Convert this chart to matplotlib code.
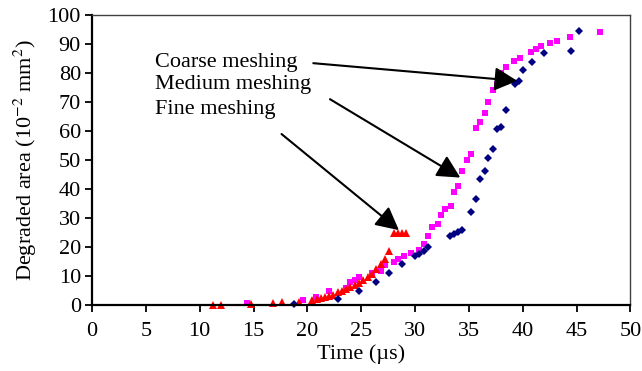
import numpy as np
import matplotlib
matplotlib.use("Agg")
import matplotlib.pyplot as plt

plt.rcParams['font.family'] = ['Liberation Serif', 'DejaVu Serif']
plt.rcParams['mathtext.fontset'] = 'stix'

# coarse meshing (navy diamonds)
coarse_t = [18.8, 22.8, 24.8, 26.4, 27.6, 28.8, 30.0, 30.4, 30.8, 31.2,
            33.2, 33.6, 34.0, 34.4, 35.2, 35.65, 36.05, 36.5, 36.8, 37.2,
            37.6, 38.0, 38.4, 39.25, 39.65, 40.05, 40.85, 42.0, 44.5, 45.25]
coarse_a = [0.5, 2.1, 5.0, 8.0, 11.1, 14.1, 17.1, 17.8, 18.6, 20.1,
            23.9, 24.4, 25.2, 26.0, 32.0, 36.5, 43.4, 46.4, 50.8, 53.8,
            60.6, 61.4, 67.4, 76.3, 77.2, 81.0, 83.9, 86.9, 87.7, 94.5]

# medium meshing (magenta squares)
medium_t = [14.4, 19.6, 20.8, 22.0, 23.6, 24.0, 24.4, 24.8, 26.0, 26.8,
            27.2, 28.0, 28.4, 29.0, 29.6, 30.4, 30.8, 31.2, 31.6, 32.1,
            32.4, 32.8, 33.3, 33.6, 34.0, 34.4, 34.8, 35.2, 35.65, 36.0,
            36.5, 36.8, 37.25, 37.6, 38.0, 38.4, 39.2, 39.7, 40.8, 41.2,
            41.7, 42.5, 43.2, 44.4, 47.2]
medium_a = [0.9, 1.7, 2.9, 4.9, 5.8, 7.9, 8.7, 9.9, 11.0, 11.8,
            14.0, 14.8, 15.8, 17.0, 17.9, 19.0, 21.0, 23.9, 27.0, 28.0,
            31.0, 33.1, 34.1, 39.0, 41.0, 46.2, 49.9, 52.0, 61.1, 63.1,
            66.1, 70.1, 74.1, 76.2, 80.1, 82.2, 84.2, 85.1, 87.1, 88.2,
            89.2, 90.2, 91.1, 92.3, 94.1]

# fine meshing (red triangles)
fine_t = [11.2, 12.0, 14.8, 16.8, 17.6, 19.2, 20.4, 20.86, 21.26, 21.63,
          22.0, 22.4, 22.8, 23.2, 23.6, 24.0, 24.4, 24.8, 25.2, 25.6,
          26.0, 26.4, 26.8, 27.2, 27.6, 28.0, 28.4, 28.8, 29.2]
fine_a = [0.0, 0.1, 0.3, 0.7, 1.0, 1.0, 1.9, 2.3, 2.6, 3.0,
          3.2, 3.7, 4.6, 4.9, 5.6, 6.4, 7.1, 7.8, 8.7, 9.6,
          10.8, 12.4, 14.2, 15.8, 18.8, 25.0, 25.0, 25.0, 25.0]

labels = ["Coarse meshing", "Medium meshing", "Fine meshing"]
label_y = [83.8, 75.9, 67.3]
arrow_from = [(20.55, 83.4), (22.1, 71.0), (17.6, 59.0)]
arrow_to = [(39.5, 77.3), (34.2, 44.0), (28.5, 25.9)]

fig = plt.figure(figsize=(6.42, 3.71), dpi=100)
ax = fig.add_axes([0.1433, 0.177, 0.8387, 0.7826])

ax.plot(medium_t, medium_a, 's', color='#ff00ff', markersize=4.5, markeredgewidth=0, clip_on=False)
ax.plot(fine_t, fine_a, '^', color='#ff0000', markersize=5.5, markeredgewidth=0, clip_on=False)
ax.plot(coarse_t, coarse_a, 'D', color='#000080', markersize=3.6, markeredgewidth=0, clip_on=False)

for lab, ly in zip(labels, label_y):
    ax.text(5.85, ly, lab, fontsize=16, va='center', ha='left')
for p0, p1 in zip(arrow_from, arrow_to):
    ax.annotate('', xy=p1, xytext=p0,
                arrowprops=dict(arrowstyle='-|>,head_length=0.7,head_width=0.36',
                                mutation_scale=20, color='black', lw=1.5,
                                shrinkA=0, shrinkB=0))

ax.set_xlim(0, 50)
ax.set_ylim(0, 100)
ax.set_xticks(np.arange(0, 51, 5))
ax.set_yticks(np.arange(0, 101, 10))
ax.tick_params(direction='out', length=5, width=1.3, labelsize=16)
ax.tick_params(axis='x', pad=7)
ax.tick_params(axis='y', pad=3)
for s in ['left', 'bottom']:
    ax.spines[s].set_linewidth(1.6)
for s in ['top', 'right']:
    ax.spines[s].set_linewidth(1.0)
    ax.spines[s].set_color('#404040')

ax.set_xlabel('Time (\u00b5s)', fontsize=16, labelpad=2)
ax.set_ylabel('Degraded area (10$^{-2}$ mm$^{2}$)', fontsize=16, labelpad=6)

fig.savefig('out.png', dpi=100)
